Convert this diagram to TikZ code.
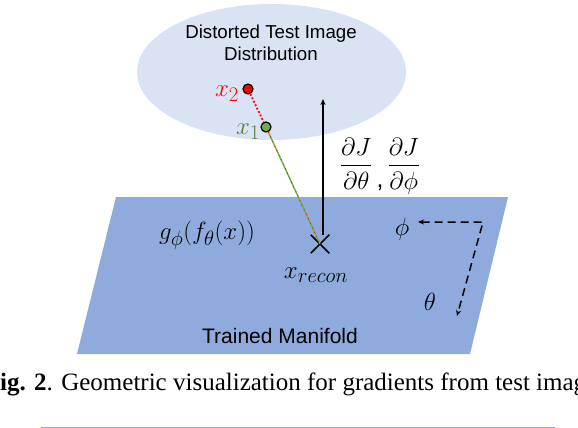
\documentclass[tikz,border=0pt]{standalone}
\usepackage{amsmath}
\usepackage{fontspec}
\setmainfont{Liberation Sans}
\newfontfamily\capfont{Liberation Serif}
\usetikzlibrary{shapes.misc,arrows.meta}
\definecolor{distblue}{HTML}{DAE3F3}
\definecolor{manblue}{HTML}{8FAADC}
\definecolor{dotgreen}{HTML}{70AD47}
\definecolor{labgreen}{HTML}{548235}
\definecolor{rulegrey}{HTML}{8FA5CF}

\begin{document}
\begin{tikzpicture}[x=1pt,y=-1pt,
  mlabel/.style={font=\fontsize{24.88}{30}\selectfont},
  sample/.style={circle,draw=black,line width=1.2pt,inner sep=0pt,minimum size=10pt},
  >={Stealth[length=6pt,width=5pt]}]
\useasboundingbox (0,0) rectangle (578,428);
\clip (0,0) rectangle (578,428);

% the two regions
\fill[distblue] (271.5,72) ellipse (134.5 and 68);
\fill[manblue] (116,197) -- (508,197) -- (470,354) -- (77,354) -- cycle;
\node[font=\fontsize{18.7}{22}\selectfont, align=center] (dist) at (271,43) {Distorted Test Image\\Distribution};
\node[font=\fontsize{21}{25}\selectfont] (manifold) at (280,336) {Trained Manifold};

% samples and reconstruction
\node[draw, cross out, line width=1.5pt, minimum size=17pt, inner sep=0pt] (recon) at (320,244) {};
\node[sample, fill=red] (x2dot) at (248,89) {};
\node[sample, fill=dotgreen] (x1dot) at (266,127) {};
\draw[dotgreen, line width=1.4pt] (x1dot) -- (recon.center);
\draw[red, line width=0.7pt, dash pattern=on 1pt off 4pt] (x1dot) -- (recon.center);
\draw[red, line width=1.8pt, dotted] (x2dot) -- (x1dot);
\node[mlabel, text=red] (x2lab) at (227,94) {$x_2$};
\node[mlabel, text=labgreen] (x1lab) at (248,132) {$x_1$};
\node[mlabel] (xrecon) at (316,275) {$x_{recon}$};
\node[mlabel] (gfx) at (207,235) {$g_\phi(f_\theta(x))$};

% gradient arrow
\coordinate (gradtop) at (323,99);
\draw[->, line width=1.5pt] (recon.north) ++(3pt,0) coordinate (gradbot) (gradbot) -- (gradtop);
\node[font=\fontsize{24.88}{30}\selectfont] (grad) at (380,166) {$\dfrac{\partial J}{\partial \theta}\,\raisebox{-1.2ex}{,}\,\dfrac{\partial J}{\partial \phi}$};

% parameter directions
\coordinate (corner) at (483,222);
\coordinate (phiend) at (418,222);
\coordinate (thetaend) at (457,316);
\draw[<->, line width=1.5pt, dash pattern=on 8pt off 5pt] (phiend) -- (corner) -- (thetaend);
\node[mlabel] (philab) at (402,229) {$\phi$};
\node[mlabel] (thetalab) at (430,302) {$\theta$};

% caption and rule
\node[anchor=base west, inner sep=0pt, font=\capfont\fontsize{25}{30}\selectfont] (caption) at (0,390)
  {\textbf{\llap{F}ig. 2}. Geometric visualization for gradients from test images};
\draw[rulegrey, line width=1pt] (41,427) -- (555,427);
\end{tikzpicture}
\end{document}
